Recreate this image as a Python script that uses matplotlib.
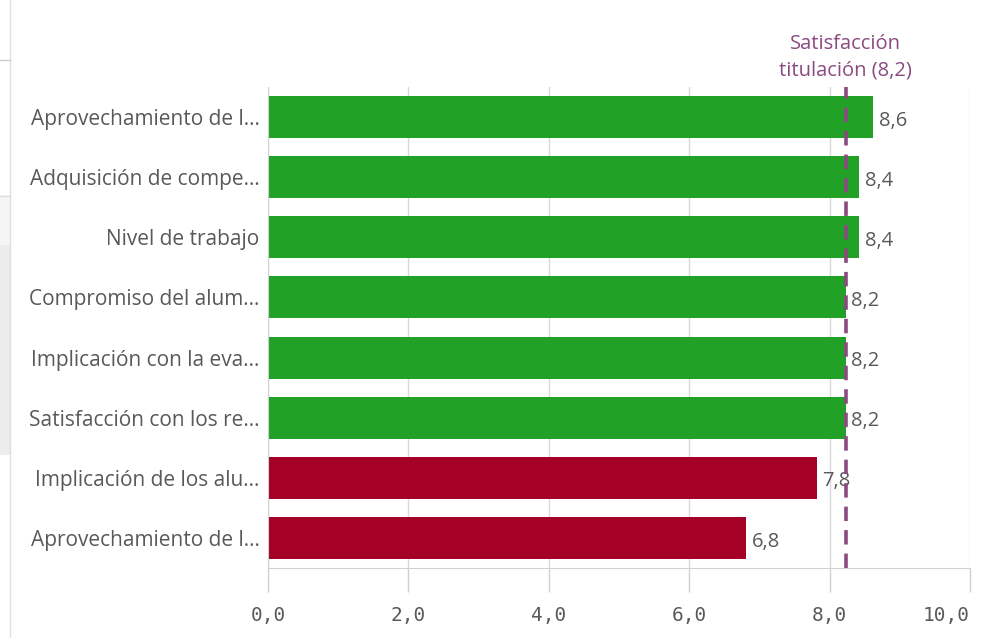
import matplotlib.pyplot as plt
from matplotlib.patches import Rectangle
from matplotlib.lines import Line2D

# data
labels = ['Aprovechamiento de l...', 'Adquisición de compe...', 'Nivel de trabajo',
          'Compromiso del alum...', 'Implicación con la eva...', 'Satisfacción con los re...',
          'Implicación de los alu...', 'Aprovechamiento de l...']
values = [8.62, 8.42, 8.42, 8.23, 8.23, 8.23, 7.82, 6.81]
ref_value = 8.23
ref_label = 'Satisfacción\ntitulación (8,2)'
xticks = [0, 2, 4, 6, 8, 10]

green = '#21a125'
red = '#a50026'
purple = '#8a4a80'
grey_txt = '#595959'

plt.rcParams['font.family'] = ['Open Sans', 'DejaVu Sans']

fig = plt.figure(figsize=(9.83, 6.38), dpi=100)
ax = fig.add_axes([268/983, 1-568/638, (970-268)/983, (568-87)/638])

colors = [green if v >= ref_value else red for v in values]
ypos = list(range(len(values)))
ax.barh(ypos, values, height=0.7, color=colors, zorder=2)

for y, v in zip(ypos, values):
    ax.text(v + 0.08, y + 0.06, f'{v:.1f}'.replace('.', ','), va='center', ha='left',
            fontsize=14.5, color=grey_txt, zorder=3)

ax.axvline(ref_value, color=purple, lw=2.6, ls=(0, (4, 2.5)), zorder=4)
ax.text(ref_value, -0.6, ref_label, ha='center', va='bottom', color=purple,
        fontsize=14.5, linespacing=1.45, clip_on=False)

ax.set_xlim(0, 10)
ax.set_ylim(7.5, -0.5)
ax.set_yticks(ypos)
ax.set_yticklabels(labels, fontsize=15, color=grey_txt)
ax.set_xticks(xticks)
ax.set_xticklabels([f'{t:.1f}'.replace('.', ',') for t in xticks],
                   fontsize=14, color=grey_txt, family='DejaVu Sans Mono')
ax.get_xticklabels()[-1].set_horizontalalignment('right')
ax.tick_params(axis='y', length=0, pad=6)
ax.tick_params(axis='x', length=17, width=1, color='#d0d0d0', pad=10)
ax.grid(axis='x', color='#d9d9d9', lw=1, zorder=0)

for s in ['top', 'right']:
    ax.spines[s].set_visible(False)
ax.spines['left'].set_color('#d0d0d0')
ax.spines['bottom'].set_color('#d0d0d0')

# screenshot border bits on the left
fig.add_artist(Rectangle((0, 1-455/638), 10/983, 210/638, transform=fig.transFigure,
                         color='#ececec', lw=0))
fig.add_artist(Rectangle((0, 1-245/638), 10/983, 50/638, transform=fig.transFigure,
                         color='#f5f5f5', lw=0))
fig.add_artist(Line2D([10/983, 10/983], [0, 1], transform=fig.transFigure,
                      color='#e0e0e0', lw=1))
fig.add_artist(Line2D([0, 10/983], [1-60/638, 1-60/638], transform=fig.transFigure,
                      color='#cccccc', lw=1))
fig.add_artist(Line2D([0, 10/983], [1-196/638, 1-196/638], transform=fig.transFigure,
                      color='#dddddd', lw=1))

fig.savefig('out.png', dpi=100)
